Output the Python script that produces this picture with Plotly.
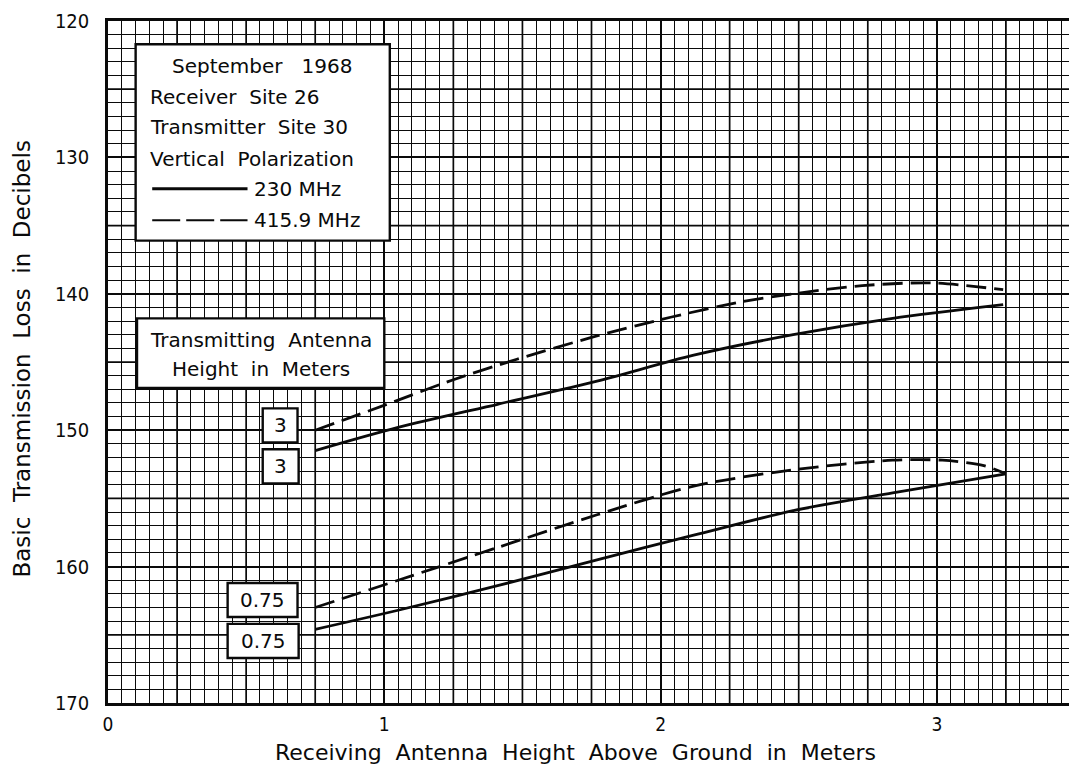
import numpy as np
import plotly.graph_objects as go

# ---------------- data ----------------
# 3 m transmitting antenna
rx_3m_230 = [0.75, 1.05, 1.41, 1.77, 2.12, 2.48, 2.84, 3.24]
loss_3m_230 = [151.5, 149.8, 148.1, 146.4, 144.5, 143.0, 141.8, 140.8]

rx_3m_416 = [0.75, 1.01, 1.25, 1.48, 1.75, 2.04, 2.29, 2.48, 2.73, 2.98, 3.24]
loss_3m_416 = [150.0, 148.1, 146.3, 144.8, 143.2, 141.7, 140.6, 140.0, 139.4, 139.2, 139.7]

# 0.75 m transmitting antenna
rx_075_230 = [0.75, 1.05, 1.41, 1.77, 2.12, 2.48, 2.84, 3.25]
loss_075_230 = [164.6, 163.2, 161.4, 159.5, 157.7, 155.9, 154.6, 153.2]

rx_075_416 = [0.75, 1.05, 1.41, 1.77, 2.12, 2.48, 2.84, 3.02, 3.17, 3.25]
loss_075_416 = [163.0, 161.0, 158.6, 156.2, 154.1, 152.9, 152.2, 152.2, 152.6, 153.2]

tx_height_labels = ["3", "3", "0.75", "0.75"]
freq_labels = ["230 MHz", "415.9 MHz"]
legend_lines = ["September   1968", "Receiver  Site 26", "Transmitter  Site 30",
                "Vertical  Polarization"]
x_ticks = [0, 1, 2, 3]
y_ticks = [120, 130, 140, 150, 160, 170]
x_title = "Receiving  Antenna  Height  Above  Ground  in  Meters"
y_title = "Basic  Transmission  Loss  in  Decibels"

FONT = "DejaVu Sans"
TICKFONT = "Liberation Sans Narrow, DejaVu Sans Condensed, Roboto"
INK = "#0a0a0a"

fig = go.Figure()

line_w = 2.8
dash = "20px,8px"
fig.add_trace(go.Scatter(x=rx_3m_230, y=loss_3m_230, mode="lines",
                         line=dict(color=INK, width=line_w, shape="spline", smoothing=0.8)))
fig.add_trace(go.Scatter(x=rx_3m_416, y=loss_3m_416, mode="lines",
                         line=dict(color=INK, width=line_w, dash=dash, shape="spline", smoothing=0.8)))
fig.add_trace(go.Scatter(x=rx_075_230, y=loss_075_230, mode="lines",
                         line=dict(color=INK, width=line_w, shape="spline", smoothing=0.8)))
fig.add_trace(go.Scatter(x=rx_075_416, y=loss_075_416, mode="lines",
                         line=dict(color=INK, width=line_w, dash=dash, shape="spline", smoothing=0.8)))

shapes = []
# medium grid lines (every 0.25 m and every 5 dB)
for xv in np.arange(0.25, 3.5, 0.25):
    if abs(xv - round(xv)) > 1e-6:
        shapes.append(dict(type="line", xref="x", yref="y", x0=xv, x1=xv, y0=120, y1=170,
                           line=dict(color=INK, width=1.7), layer="below"))
for yv in np.arange(125, 170, 10):
    shapes.append(dict(type="line", xref="x", yref="y", x0=0, x1=3.5, y0=yv, y1=yv,
                       line=dict(color=INK, width=1.7), layer="below"))


def box(x0, x1, y0, y1):
    shapes.append(dict(type="rect", xref="x", yref="y", x0=x0, x1=x1, y0=y0, y1=y1,
                       fillcolor="white", line=dict(color=INK, width=2.4), layer="above"))


# legend box
box(0.10, 1.02, 121.7, 136.1)
# transmitting antenna box
box(0.105, 1.00, 141.8, 146.9)
# height label boxes
label_boxes = [(0.56, 0.686, 148.4, 150.9), (0.56, 0.69, 151.4, 153.9),
               (0.433, 0.686, 161.2, 163.7), (0.433, 0.69, 164.2, 166.7)]
for (a, b, c, d) in label_boxes:
    box(a, b, c, d)

# legend line samples
shapes.append(dict(type="line", xref="x", yref="y", x0=0.16, x1=0.505, y0=132.3, y1=132.3,
                   line=dict(color=INK, width=2.8), layer="above"))
shapes.append(dict(type="line", xref="x", yref="y", x0=0.16, x1=0.505, y0=134.6, y1=134.6,
                   line=dict(color=INK, width=2.0, dash="28px,6px"), layer="above"))

annotations = []
leg_y = [123.3, 125.6, 127.8, 130.1]
for i, (txt, yy) in enumerate(zip(legend_lines, leg_y)):
    if i == 0:
        annotations.append(dict(x=0.56, y=yy, text=txt, xanchor="center"))
    else:
        annotations.append(dict(x=0.145, y=yy, text=txt, xanchor="left"))
annotations.append(dict(x=0.52, y=132.3, text=freq_labels[0], xanchor="left"))
annotations.append(dict(x=0.52, y=134.6, text=freq_labels[1], xanchor="left"))
annotations.append(dict(x=0.552, y=143.4, text="Transmitting  Antenna", xanchor="center"))
annotations.append(dict(x=0.552, y=145.5, text="Height  in  Meters", xanchor="center"))
for txt, (a, b, c, d) in zip(tx_height_labels, label_boxes):
    annotations.append(dict(x=(a + b) / 2, y=(c + d) / 2, text=txt, xanchor="center"))
for a in annotations:
    a.update(xref="x", yref="y", showarrow=False, yanchor="middle",
             font=dict(family=FONT, size=20, color=INK))

# axis titles as annotations (precise placement)
annotations.append(dict(xref="paper", yref="paper", x=0.483, y=-0.073, text=x_title,
                        showarrow=False, xanchor="center", yanchor="middle",
                        font=dict(family=FONT, size=22, color=INK)))
annotations.append(dict(xref="paper", yref="paper", x=-0.089, y=0.505, text=y_title,
                        showarrow=False, xanchor="center", yanchor="middle", textangle=-90,
                        font=dict(family=FONT, size=23, color=INK)))

# the page body has an 8px margin, so the figure is sized/offset to compensate
fig.update_layout(
    width=1069, height=758,
    margin=dict(l=100, r=2, t=13, b=63),
    paper_bgcolor="white", plot_bgcolor="white",
    showlegend=False,
    shapes=shapes, annotations=annotations,
    xaxis=dict(range=[0, 3.5], tickmode="array", tickvals=x_ticks,
               ticktext=[str(v) for v in x_ticks],
               showgrid=True, gridcolor=INK, gridwidth=2.2,
               minor=dict(dtick=0.05, tick0=0, showgrid=True, gridcolor=INK, gridwidth=1.1),
               showline=True, linecolor=INK, linewidth=2.5, mirror=True,
               ticks="", ticklabelstandoff=2, ticklabeloverflow="allow",
               tickfont=dict(family=TICKFONT, size=19, color=INK),
               zeroline=False, automargin=False),
    yaxis=dict(range=[170, 120], tickmode="array", tickvals=y_ticks,
               ticktext=[str(v) for v in y_ticks],
               showgrid=True, gridcolor=INK, gridwidth=2.2,
               minor=dict(dtick=1, tick0=120, showgrid=True, gridcolor=INK, gridwidth=1.1),
               showline=True, linecolor=INK, linewidth=2.5, mirror=True,
               ticks="", ticklabelstandoff=12, ticklabeloverflow="allow",
               tickfont=dict(family=TICKFONT, size=20, color=INK),
               zeroline=False, automargin=False),
)

fig.write_html("out.html")
